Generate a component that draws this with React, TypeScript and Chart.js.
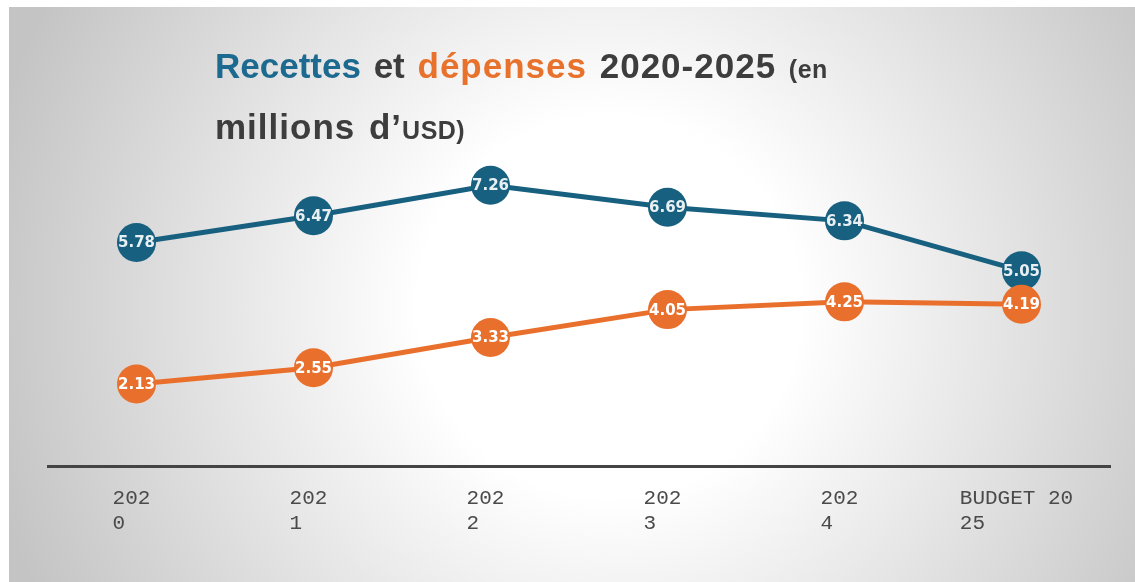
import React, { useEffect, useRef } from "react";
import { Chart, registerables } from "chart.js";

Chart.register(...registerables);

const categories = ["2020", "2021", "2022", "2023", "2024", "BUDGET 2025"];
const recettes = [5.78, 6.47, 7.26, 6.69, 6.34, 5.05];
const depenses = [2.13, 2.55, 3.33, 4.05, 4.25, 4.19];
const tickLabels = [
  ["202", "0  "],
  ["202", "1  "],
  ["202", "2  "],
  ["202", "3  "],
  ["202", "4  "],
  ["BUDGET 20", "25       "],
];

const BLUE = "#17607f";
const ORANGE = "#e9702c";

const pointLabelPlugin = {
  id: "pointLabels",
  afterDatasetsDraw(chart: any) {
    const ctx = chart.ctx;
    ctx.save();
    ctx.font = 'bold 15px "DejaVu Sans", sans-serif';
    ctx.textAlign = "center";
    ctx.textBaseline = "middle";
    chart.data.datasets.forEach((ds: any, di: number) => {
      const meta = chart.getDatasetMeta(di);
      ctx.fillStyle = di === 0 ? "#e9f0f4" : "#ffffff";
      meta.data.forEach((pt: any, i: number) => {
        ctx.fillText(Number(ds.data[i]).toFixed(2), pt.x, pt.y + 1);
      });
    });
    ctx.restore();
  },
};

export default function App() {
  const canvasRef = useRef<HTMLCanvasElement | null>(null);

  useEffect(() => {
    if (!canvasRef.current) return;
    const chart = new Chart(canvasRef.current, {
      type: "line",
      data: {
        labels: categories,
        datasets: [
          {
            label: "Recettes",
            data: recettes,
            borderColor: BLUE,
            backgroundColor: BLUE,
            pointBackgroundColor: BLUE,
            pointBorderWidth: 0,
            pointRadius: 19.5,
            borderWidth: 5,
            tension: 0,
            order: 1,
          },
          {
            label: "Dépenses",
            data: depenses,
            borderColor: ORANGE,
            backgroundColor: ORANGE,
            pointBackgroundColor: ORANGE,
            pointBorderWidth: 0,
            pointRadius: 19.5,
            borderWidth: 5,
            tension: 0,
            order: 0,
          },
        ],
      },
      options: {
        responsive: false,
        animation: false,
        devicePixelRatio: 1,
        layout: { padding: { left: 48, right: 25, top: 79, bottom: 27 } },
        plugins: {
          legend: { display: false },
          title: { display: false },
          tooltip: { enabled: false },
        },
        scales: {
          y: { display: false, min: 0, max: 10 },
          x: {
            offset: true,
            grid: { display: false, drawTicks: false },
            border: { display: true, color: "#444444", width: 3 },
            ticks: {
              autoSkip: false,
              maxRotation: 0,
              padding: 19,
              labelOffset: -5,
              color: "#4a4a4a",
              font: { family: '"Liberation Mono", monospace', size: 21, lineHeight: 1.2 },
              callback: (_v: any, i: number) => tickLabels[i],
            },
          },
        },
      },
      plugins: [pointLabelPlugin],
    });
    return () => chart.destroy();
  }, []);

  return (
    <div
      style={{
        position: "fixed",
        left: 0,
        top: 0,
        width: 1135,
        height: 582,
        background: "#ffffff",
        overflow: "hidden",
      }}
    >
      <div
        style={{
          position: "absolute",
          left: 9,
          top: 7,
          width: 1126,
          height: 575,
          background:
            "radial-gradient(circle at 600px 300px, #ffffff 0px, #ffffff 190px, #c4c4c4 640px)",
        }}
      />
      <canvas
        ref={canvasRef}
        width={1135}
        height={582}
        style={{ position: "absolute", left: 0, top: 0, width: 1135, height: 582 }}
      />
      <div
        style={{
          position: "absolute",
          left: 215,
          top: 37,
          font: 'bold 35px "Liberation Sans", Arial, sans-serif',
          lineHeight: "58px",
          color: "#3d3d3d",
          wordSpacing: "3px",
          whiteSpace: "nowrap",
        }}
      >
        <span style={{ color: "#1c6a8f" }}>Recettes</span> et{" "}
        <span style={{ color: "#e8722c", letterSpacing: "1px" }}>dépenses</span>{" "}
        <span style={{ letterSpacing: "1px" }}>2020-2025</span>{" "}
        <span style={{ fontSize: 25, letterSpacing: "0.5px" }}>(en</span>
        <br />
        <span style={{ letterSpacing: "1px" }}>millions d’</span>
        <span style={{ fontSize: 25, letterSpacing: "0.5px" }}>USD)</span>
      </div>
    </div>
  );
}
